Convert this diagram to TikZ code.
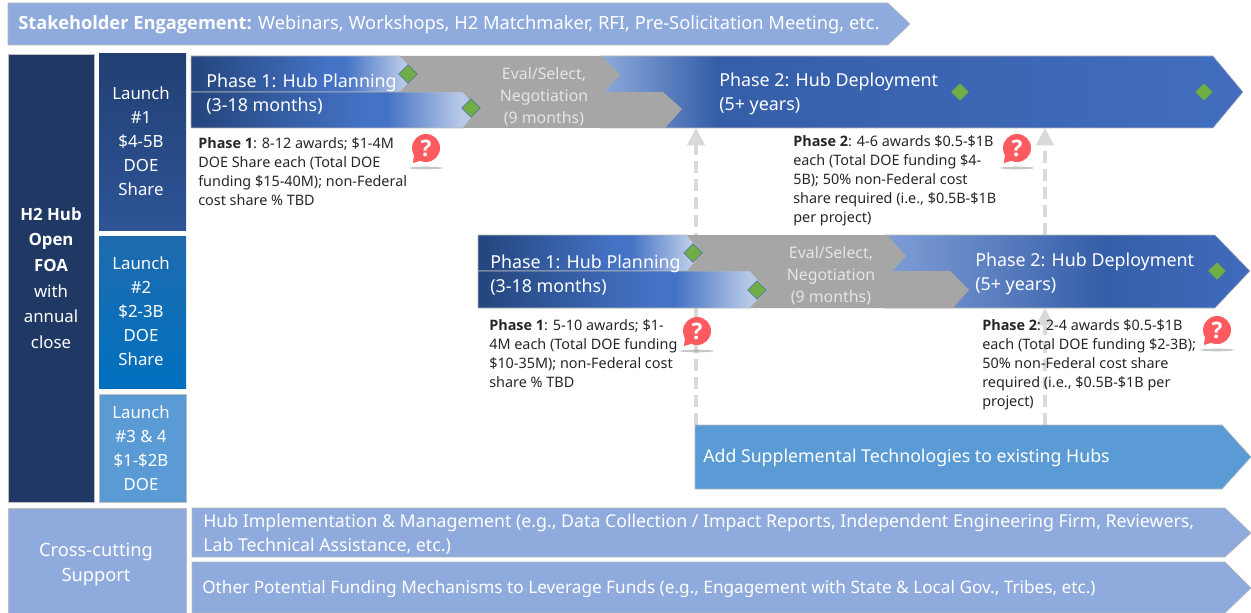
\documentclass[tikz,border=0pt]{standalone}
\usepackage{fontspec}
\setmainfont{Noto Sans}[BoldFont={Open Sans Bold}]
\usetikzlibrary{shapes.geometric,arrows.meta}
\definecolor{hubdark}{HTML}{1F3864}
\definecolor{periw}{HTML}{8FAADC}
\definecolor{skyb}{HTML}{5B9BD5}
\definecolor{midgray}{HTML}{A6A6A6}
\definecolor{dashg}{HTML}{D9D9D9}
\definecolor{qred}{HTML}{FF5A5F}
\definecolor{bodyt}{HTML}{262626}
\definecolor{gemfill}{HTML}{70AD47}
\definecolor{gemline}{HTML}{41719C}
\pgfdeclarehorizontalshading{phaseone}{100bp}{
  rgb(0bp)=(0.14,0.27,0.49); rgb(25bp)=(0.14,0.27,0.49);
  rgb(55bp)=(0.267,0.447,0.769); rgb(59bp)=(0.267,0.447,0.769); rgb(72bp)=(0.72,0.79,0.91); rgb(75bp)=(0.72,0.79,0.91); rgb(100bp)=(0.72,0.79,0.91)}
\pgfdeclarehorizontalshading{phasetwoA}{100bp}{
  rgb(0bp)=(0.56,0.67,0.86); rgb(25bp)=(0.56,0.67,0.86);
  rgb(34bp)=(0.21,0.37,0.66); rgb(75bp)=(0.26,0.43,0.75); rgb(100bp)=(0.26,0.43,0.75)}
\pgfdeclarehorizontalshading{phasetwoB}{100bp}{
  rgb(0bp)=(0.50,0.62,0.84); rgb(25bp)=(0.50,0.62,0.84);
  rgb(55bp)=(0.21,0.37,0.66); rgb(75bp)=(0.25,0.42,0.74); rgb(100bp)=(0.25,0.42,0.74)}
\pgfdeclareverticalshading{launchone}{100bp}{
  rgb(0bp)=(0.18,0.33,0.59); rgb(25bp)=(0.18,0.33,0.59); rgb(75bp)=(0.13,0.25,0.45); rgb(100bp)=(0.13,0.25,0.45)}
\pgfdeclareverticalshading{launchtwo}{100bp}{
  rgb(0bp)=(0.0,0.44,0.75); rgb(25bp)=(0.0,0.44,0.75); rgb(75bp)=(0.12,0.42,0.68); rgb(100bp)=(0.12,0.42,0.68)}
\tikzset{
  edge/.style={draw=gray!55,line width=0.4pt},
  box/.style={draw=gray!50,line width=0.4pt},
  boxtext/.style={text=white,align=center,font=\fontsize{12.6}{18}\selectfont},
  phasetext/.style={anchor=west,text=white,align=left,inner sep=0pt,font=\fontsize{13.4}{18.2}\selectfont},
  evaltext/.style={text=white!90!black,align=center,inner sep=0pt,font=\fontsize{11.9}{16.5}\selectfont},
  barlabel/.style={anchor=west,text=white,align=left,inner sep=0pt,font=\fontsize{13.3}{18}\selectfont},
  detail/.style={anchor=north west,text=bodyt,align=left,inner sep=0pt,font=\fontsize{10.8}{14.25}\selectfont},
  gem/.style={shape=diamond,fill=gemfill,draw=gemline,line width=0.4pt,inner sep=0pt,minimum size=14pt},
  redcircle/.style={circle,fill=qred,inner sep=0pt,minimum size=21pt,text=white,font=\fontsize{17}{17}\bfseries\selectfont},
  guide/.style={draw=dashg,line width=2.6pt,dash pattern=on 9pt off 4.5pt,-{Triangle[length=13pt,width=13pt,fill=dashg]}},
}
\newcommand{\qmark}[3]{%
  \fill[gray!80,opacity=.55] (#2,#3+20) ellipse [x radius=17,y radius=1.3];
  \fill[qred] (#2-12,#3+6) -- (#2-13,#3+15) -- (#2-3,#3+12) -- cycle;
  \node[redcircle] (#1) at (#2,#3) {?};
}
\begin{document}
\begin{tikzpicture}[x=0.75pt,y=-0.75pt]
\useasboundingbox (0,0) rectangle (1251,613);
% top band
\path[fill=periw,edge] (8,3) -- (888,3) -- (910,24) -- (888,45) -- (8,45) -- cycle;
\node[barlabel,font=\fontsize{13.7}{18}\selectfont] (stake) at (18,25) {\textbf{Stakeholder Engagement:} Webinars, Workshops, H2 Matchmaker, RFI, Pre-Solicitation Meeting, etc.};
% left column
\path[fill=hubdark,box] (8,54) rectangle (94,502);
\node[boxtext,font=\fontsize{12.6}{19.2}\selectfont] (hub) at (51,278) {\textbf{H2 Hub}\\\textbf{Open}\\\textbf{FOA}\\with\\annual\\close};
\shade[shading=launchone] (99,54) rectangle (186,230);
\node[boxtext] (l1) at (141,141) {Launch\\\#1\\\$4-5B\\DOE\\Share};
\shade[shading=launchtwo] (99,236) rectangle (186,388);
\node[boxtext] (l2) at (141,311) {Launch\\\#2\\\$2-3B\\DOE\\Share};
\path[fill=skyb,box] (99,394) rectangle (186,502);
\node[boxtext] (l3) at (141,448) {Launch\\\#3 \& 4\\\$1-\$2B\\DOE};
% coordinates for the guides
\coordinate (supA) at (696,425);
\coordinate (topA) at (696,128);
\coordinate (supB) at (1045,425);
\coordinate (midB) at (1045,308);
\coordinate (lowB) at (1045,235);
\coordinate (topB) at (1045,128);
\draw[guide] (supA) -- (topA);
\draw[guide] (lowB) -- (topB);
\draw[guide] (supB) -- (midB);
% row one
\path[shading=phasetwoA,edge] (600,56) -- (1213,56) -- (1243,92) -- (1213,128) -- (600,128) -- cycle;
\path[shading=phaseone,edge] (191,56) -- (400,56) -- (417,74) -- (400,92) -- (191,92) -- cycle;
\path[shading=phaseone,edge] (191,92) -- (463,92) -- (478,109) -- (463,128) -- (191,128) -- cycle;
\path[fill=midgray] (400,56) -- (601,56) -- (620,75) -- (604,92) -- (663,92) -- (682,109) -- (665,128) -- (463,128) -- (478,109) -- (463,92) -- (400,92) -- (417,74) -- cycle;
\node[phasetext] (p1a) at (206,94) {Phase 1: Hub Planning\\(3-18 months)};
\node[evaltext] (ev1) at (544,97) {Eval/Select,\\Negotiation\\(9 months)};
\node[phasetext] (p2a) at (719,94) {Phase 2: Hub Deployment\\(5+ years)};
\node[gem] (g1) at (408,74) {};
\node[gem] (g2) at (471,108) {};
\node[gem] (g3) at (960,92) {};
\node[gem] (g4) at (1204,92) {};
% row two
\path[shading=phasetwoB,edge] (885,235) -- (1215,235) -- (1250,271) -- (1215,308) -- (885,308) -- cycle;
\path[shading=phaseone,edge] (478,235) -- (687,235) -- (702,254) -- (687,271) -- (478,271) -- cycle;
\path[shading=phaseone,edge] (478,271) -- (750,271) -- (767,290) -- (750,308) -- (478,308) -- cycle;
\path[fill=midgray] (687,235) -- (887,235) -- (906,256) -- (892,271) -- (950,271) -- (969,290) -- (953,308) -- (750,308) -- (767,290) -- (750,271) -- (687,271) -- (702,254) -- cycle;
\node[phasetext] (p1b) at (490,275) {Phase 1: Hub Planning\\(3-18 months)};
\node[evaltext] (ev2) at (831,276) {Eval/Select,\\Negotiation\\(9 months)};
\node[phasetext] (p2b) at (975,274) {Phase 2: Hub Deployment\\(5+ years)};
\node[gem] (g5) at (693,253) {};
\node[gem] (g6) at (757,290) {};
\node[gem] (g7) at (1217,271) {};
% detail text
\node[detail] (d1) at (198,137) {\textbf{Phase 1}: 8-12 awards; \$1-4M\\DOE Share each (Total DOE\\funding \$15-40M); non-Federal\\cost share \% TBD};
\node[detail] (d2) at (793,135) {\textbf{Phase 2}: 4-6 awards \$0.5-\$1B\\each (Total DOE funding \$4-\\5B); 50\% non-Federal cost\\share required (i.e., \$0.5B-\$1B\\per project)};
\node[detail] (d3) at (489,319) {\textbf{Phase 1}: 5-10 awards; \$1-\\4M each (Total DOE funding\\\$10-35M); non-Federal cost\\share \% TBD};
\node[detail] (d4) at (982,319) {\textbf{Phase 2}: 2-4 awards \$0.5-\$1B\\each (Total DOE funding \$2-3B);\\50\% non-Federal cost share\\required (i.e., \$0.5B-\$1B per\\project)};
\qmark{q1}{426}{148}
\qmark{q2}{1017}{148}
\qmark{q3}{697}{331}
\qmark{q4}{1217}{330}
% supplemental
\path[fill=skyb,edge] (695,425) -- (1222,425) -- (1251,457) -- (1222,489) -- (695,489) -- cycle;
\node[barlabel] (sup) at (703,458) {Add Supplemental Technologies to existing Hubs};
% cross-cutting
\path[fill=periw,box] (8,508) rectangle (186,613);
\node[boxtext,font=\fontsize{13.7}{18.75}\selectfont] (cc) at (96,564) {Cross-cutting\\Support};
\path[fill=periw,edge] (192,508) -- (1225,508) -- (1251,533) -- (1225,557) -- (192,557) -- cycle;
\node[barlabel] (impl) at (203,534) {Hub Implementation \& Management (e.g., Data Collection / Impact Reports, Independent Engineering Firm, Reviewers,\\Lab Technical Assistance, etc.)};
\path[fill=periw,edge] (192,562) -- (1225,562) -- (1251,588) -- (1225,613) -- (192,613) -- cycle;
\node[barlabel,font=\fontsize{12.9}{18}\selectfont] (other) at (202,589) {Other Potential Funding Mechanisms to Leverage Funds (e.g., Engagement with State \& Local Gov., Tribes, etc.)};
\end{tikzpicture}
\end{document}
